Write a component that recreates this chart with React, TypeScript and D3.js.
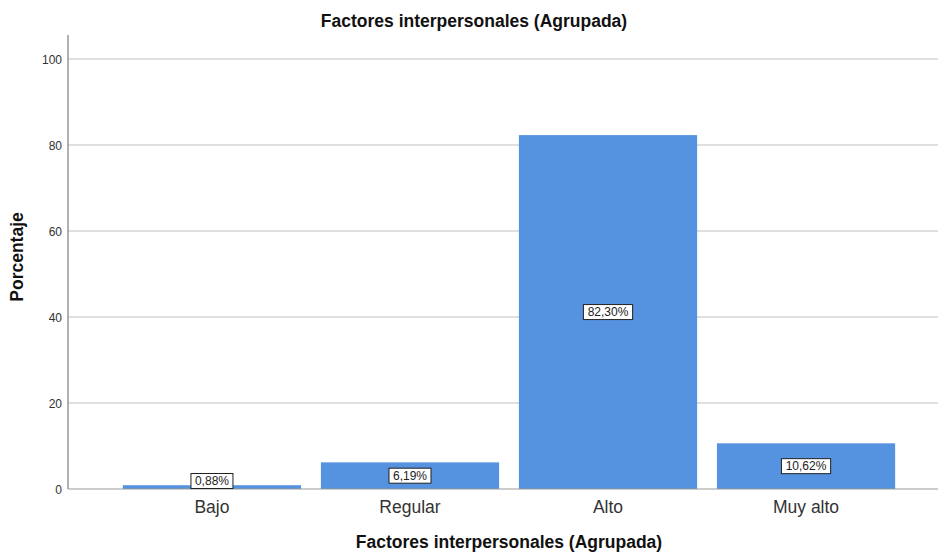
import * as d3 from "d3";
import React, { useEffect, useRef } from "react";

const categories = ["Bajo", "Regular", "Alto", "Muy alto"];
const percentages = [0.88, 6.19, 82.3, 10.62];
const valueLabels = ["0,88%", "6,19%", "82,30%", "10,62%"];
const yTicks = [0, 20, 40, 60, 80, 100];

const width = 938;
const height = 553;
const font = "'Liberation Sans', Arial, sans-serif";

const App = () => {
  const ref = useRef<SVGSVGElement>(null);

  useEffect(() => {
    const svg = d3.select(ref.current);
    svg.selectAll("*").remove();

    const left = 68;
    const bottom = 489;

    const x = d3
      .scaleBand<string>()
      .domain(categories)
      .range([left, 950])
      .paddingInner(0.1)
      .paddingOuter(0.277);
    const y = d3.scaleLinear().domain([0, 100]).range([bottom, 59]);

    svg.append("rect").attr("width", width).attr("height", height).attr("fill", "#fff");

    // gridlines
    svg
      .append("g")
      .selectAll("line")
      .data(yTicks.filter((t) => t > 0))
      .enter()
      .append("line")
      .attr("x1", left)
      .attr("x2", width)
      .attr("y1", (d) => y(d))
      .attr("y2", (d) => y(d))
      .attr("stroke", "#d4d4d4")
      .attr("stroke-width", 1.3);

    // y tick labels
    svg
      .append("g")
      .selectAll("text")
      .data(yTicks)
      .enter()
      .append("text")
      .attr("x", 62)
      .attr("y", (d) => y(d) + 5)
      .attr("text-anchor", "end")
      .attr("font-family", font)
      .attr("font-size", 12)
      .attr("fill", "#333")
      .text((d) => d);

    // bars
    svg
      .append("g")
      .selectAll("rect")
      .data(percentages)
      .enter()
      .append("rect")
      .attr("x", (_, i) => x(categories[i]) as number)
      .attr("y", (d) => y(d))
      .attr("width", x.bandwidth())
      .attr("height", (d) => bottom - y(d))
      .attr("fill", "#5592e0");

    // axis lines
    svg
      .append("line")
      .attr("x1", left)
      .attr("x2", width)
      .attr("y1", bottom)
      .attr("y2", bottom)
      .attr("stroke", "#999")
      .attr("stroke-width", 1);
    svg
      .append("line")
      .attr("x1", left)
      .attr("x2", left)
      .attr("y1", 35)
      .attr("y2", bottom)
      .attr("stroke", "#888")
      .attr("stroke-width", 1.3);

    // value labels
    const lab = svg
      .append("g")
      .selectAll("g")
      .data(percentages)
      .enter()
      .append("g")
      .attr("transform", (d, i) => {
        const cx = (x(categories[i]) as number) + x.bandwidth() / 2;
        const cy = Math.min((y(d) + bottom) / 2, bottom - 8);
        return `translate(${cx},${cy})`;
      });
    lab
      .append("rect")
      .attr("x", (_, i) => -(valueLabels[i].length * 3.6 + 3))
      .attr("y", -7.5)
      .attr("width", (_, i) => valueLabels[i].length * 7.2 + 6)
      .attr("height", 15)
      .attr("fill", "#fff")
      .attr("stroke", "#222")
      .attr("stroke-width", 1);
    lab
      .append("text")
      .attr("y", 4.2)
      .attr("text-anchor", "middle")
      .attr("font-family", font)
      .attr("font-size", 12)
      .attr("fill", "#222")
      .text((_, i) => valueLabels[i]);

    // category labels
    svg
      .append("g")
      .selectAll("text")
      .data(categories)
      .enter()
      .append("text")
      .attr("x", (d) => (x(d) as number) + x.bandwidth() / 2)
      .attr("y", 513)
      .attr("text-anchor", "middle")
      .attr("font-family", font)
      .attr("font-size", 17.5)
      .attr("fill", "#333")
      .text((d) => d);

    // titles
    svg
      .append("text")
      .attr("x", 474)
      .attr("y", 27)
      .attr("text-anchor", "middle")
      .attr("font-family", font)
      .attr("font-size", 17.5)
      .attr("font-weight", "bold")
      .attr("fill", "#111")
      .text("Factores interpersonales (Agrupada)");
    svg
      .append("text")
      .attr("x", (left + 950) / 2)
      .attr("y", 548)
      .attr("text-anchor", "middle")
      .attr("font-family", font)
      .attr("font-size", 17.5)
      .attr("font-weight", "bold")
      .attr("fill", "#111")
      .text("Factores interpersonales (Agrupada)");
    svg
      .append("text")
      .attr("transform", "translate(23,257) rotate(-90)")
      .attr("text-anchor", "middle")
      .attr("font-family", font)
      .attr("font-size", 17.5)
      .attr("font-weight", "bold")
      .attr("fill", "#111")
      .text("Porcentaje");
  }, []);

  return (
    <svg
      ref={ref}
      width={width}
      height={height}
      style={{ position: "absolute", left: 0, top: 0 }}
    />
  );
};

export default App;
